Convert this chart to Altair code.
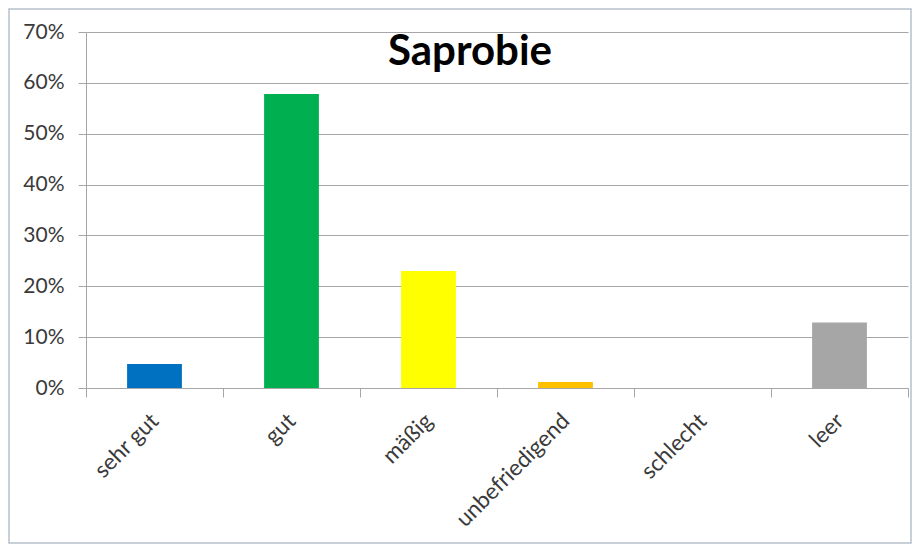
import altair as alt
import pandas as pd

title_text = "Saprobie"
categories = ["sehr gut", "gut", "mäßig", "unbefriedigend", "schlecht", "leer"]
values = [0.047, 0.578, 0.230, 0.012, 0.0, 0.129]
colors = ["#0070C0", "#00B050", "#FFFF00", "#FFC000", "#FF0000", "#A6A6A6"]
y_ticks = [0, 0.1, 0.2, 0.3, 0.4, 0.5, 0.6, 0.7]

df = pd.DataFrame({"Kategorie": categories, "Anteil": values})

FONT = "Lato"
LABEL_COLOR = "#3A3A3A"
LINE_COLOR = "#A6A6A6"

bars = alt.Chart(df).mark_bar(width=alt.RelativeBandSize(0.4)).encode(
    x=alt.X(
        "Kategorie:N",
        sort=categories,
        scale=alt.Scale(paddingInner=0, paddingOuter=0),
        axis=alt.Axis(
            title=None,
            labelAngle=-45,
            labelAlign="right",
            labelBaseline="middle",
            labelPadding=20,
            labelFont=FONT,
            labelFontSize=22.5,
            labelColor=LABEL_COLOR,
            tickBand="extent",
            tickSize=9,
            tickColor=LINE_COLOR,
            domainColor=LINE_COLOR,
            grid=False,
        ),
    ),
    y=alt.Y(
        "Anteil:Q",
        scale=alt.Scale(domain=[0, 0.7], nice=False),
        axis=alt.Axis(
            title=None,
            values=y_ticks,
            format=".0%",
            labelFont=FONT,
            labelFontSize=21,
            labelColor=LABEL_COLOR,
            labelPadding=14,
            tickSize=8,
            tickColor=LINE_COLOR,
            domainColor=LINE_COLOR,
            gridColor=LINE_COLOR,
            gridWidth=1,
        ),
    ),
    color=alt.Color(
        "Kategorie:N",
        scale=alt.Scale(domain=categories, range=colors),
        legend=None,
    ),
)

title = alt.Chart(pd.DataFrame({"t": [title_text]})).mark_text(
    font=FONT, fontSize=42, fontWeight="bold", color="#000000",
    align="center", baseline="alphabetic"
).encode(x=alt.value(384), y=alt.value(33), text="t:N")

frame = alt.Chart(pd.DataFrame({"a": [0]})).mark_rect(
    fill="transparent", stroke="#B8C0CC", strokeWidth=1.5
).encode(
    x=alt.value(-77), x2=alt.value(825), y=alt.value(-23), y2=alt.value(511)
)

chart = alt.layer(frame, bars, title).properties(
    width=822,
    height=356,
    autosize="none",
    padding={"left": 78, "top": 24, "right": 5, "bottom": 157},
).configure_view(stroke=None)

chart.save("out.html", embed_options={"renderer": "svg", "actions": False})
